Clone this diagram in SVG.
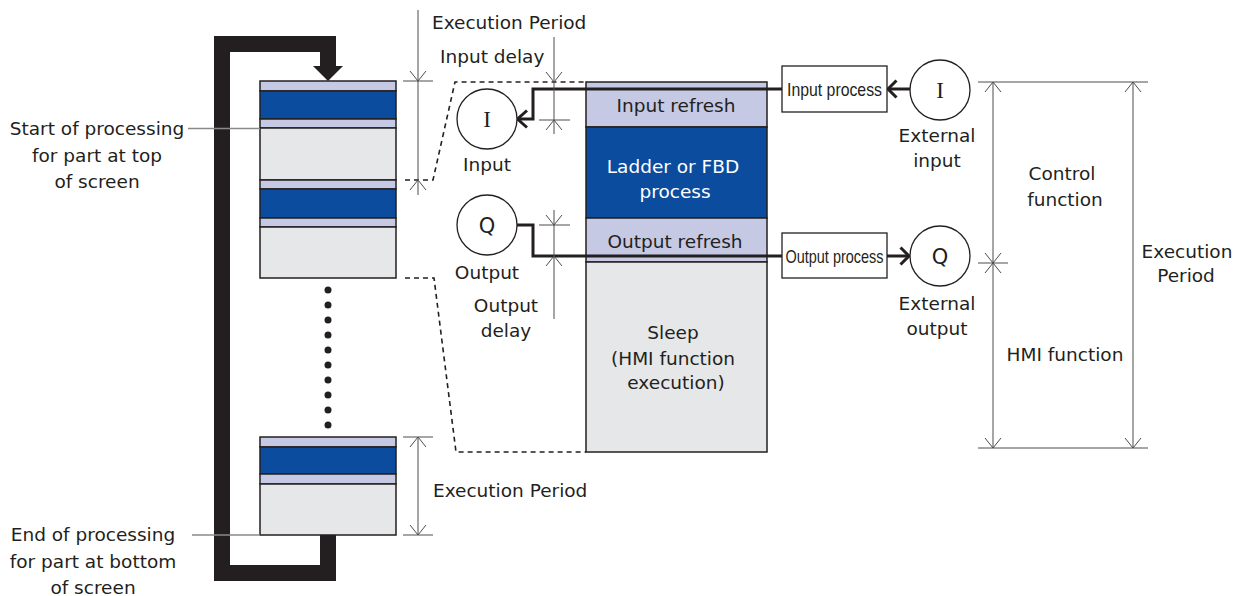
<svg xmlns="http://www.w3.org/2000/svg" width="1234" height="596" viewBox="0 0 1234 596">
<style>
text{font-family:"DejaVu Sans","Liberation Sans",sans-serif;font-size:18.5px;fill:#231f20}
.mid{text-anchor:middle}
.wt{fill:#ffffff}
.big{font-size:21px}
.cond{font-family:"Liberation Sans Narrow","Liberation Sans",sans-serif;font-size:19px}
.serif{font-family:"Liberation Serif","DejaVu Serif",serif;font-size:23px}
.lt{fill:#c5c9e3;stroke:#231f20;stroke-width:1.5}
.bl{fill:#0b4c9e;stroke:#231f20;stroke-width:1.5}
.gr{fill:#e6e7e8;stroke:#231f20;stroke-width:1.5}
.dim{fill:none;stroke:#4d4d4d;stroke-width:1}
.dash{fill:none;stroke:#231f20;stroke-width:1.6;stroke-dasharray:5 4}
.thick{fill:none;stroke:#231f20;stroke-width:3}
.circ{fill:#ffffff;stroke:#231f20;stroke-width:1.3}
.box{fill:#ffffff;stroke:#231f20;stroke-width:1.3}
.lead{fill:none;stroke:#8a8a8a;stroke-width:1.5}
</style>

<g id="loop">
  <path d="M328 535 V573 H222 V44 H328 V68" fill="none" stroke="#231f20" stroke-width="16"/>
  <polygon points="313,66 343,66 328,81" fill="#231f20"/>
</g>

<g id="stack-top">
  <rect class="lt" x="260" y="81" width="136" height="10"/>
  <rect class="bl" x="260" y="91" width="136" height="28"/>
  <rect class="lt" x="260" y="119" width="136" height="9"/>
  <rect class="gr" x="260" y="128" width="136" height="52"/>
  <rect class="lt" x="260" y="180" width="136" height="9"/>
  <rect class="bl" x="260" y="189" width="136" height="29"/>
  <rect class="lt" x="260" y="218" width="136" height="9"/>
  <rect class="gr" x="260" y="227" width="136" height="51"/>
</g>

<g id="dots" fill="#231f20">
  <circle cx="328" cy="290" r="3.5"/><circle cx="328" cy="305" r="3.5"/>
  <circle cx="328" cy="320" r="3.5"/><circle cx="328" cy="335" r="3.5"/>
  <circle cx="328" cy="350" r="3.5"/><circle cx="328" cy="365" r="3.5"/>
  <circle cx="328" cy="380" r="3.5"/><circle cx="328" cy="395" r="3.5"/>
  <circle cx="328" cy="410" r="3.5"/><circle cx="328" cy="425" r="3.5"/>
</g>

<g id="stack-bottom">
  <rect class="lt" x="260" y="437" width="136" height="10"/>
  <rect class="bl" x="260" y="447" width="136" height="27"/>
  <rect class="lt" x="260" y="474" width="136" height="10"/>
  <rect class="gr" x="260" y="484" width="136" height="51"/>
</g>

<g id="start-label">
  <path class="lead" d="M188 128.5 H260"/>
  <text class="mid" x="97" y="135">Start of processing</text>
  <text class="mid" x="97" y="161.5">for part at top</text>
  <text class="mid" x="97" y="188">of screen</text>
</g>

<g id="end-label">
  <path class="lead" d="M192 535 H260"/>
  <text class="mid" x="93" y="541">End of processing</text>
  <text class="mid" x="93" y="567.5">for part at bottom</text>
  <text class="mid" x="93" y="594">of screen</text>
</g>

<g id="main-block">
  <rect class="lt" x="586" y="82" width="181" height="45"/>
  <rect class="bl" x="586" y="127" width="181" height="91"/>
  <rect class="lt" x="586" y="218" width="181" height="44"/>
  <rect class="gr" x="586" y="262" width="181" height="190"/>
  <text class="mid" x="676" y="111.5">Input refresh</text>
  <text class="mid wt" x="673" y="173">Ladder or FBD</text>
  <text class="mid wt" x="675" y="198">process</text>
  <text class="mid" x="675" y="248">Output refresh</text>
  <text class="mid" x="673" y="339">Sleep</text>
  <text class="mid" x="673" y="365">(HMI function</text>
  <text class="mid" x="676" y="389">execution)</text>
</g>

<g id="connectors">
  <path class="dash" d="M405 180 H433 L455 82 H586"/>
  <path class="dash" d="M405 278 H434 L456 452 H586"/>
  <path class="thick" d="M783 89 H533 V119 H518"/>
  <path class="thick" d="M527 110.5 L517.5 119 L527 127.5"/>
  <path class="thick" d="M517 225 H533 V256 H783"/>
  <path class="thick" d="M910 89 H888"/>
  <path class="thick" d="M896.5 80.5 L888 89 L896.5 97.5"/>
  <path class="thick" d="M887 256 H909"/>
  <path class="thick" d="M900.5 247.5 L909 256 L900.5 264.5"/>
</g>

<g id="input-circle">
  <circle class="circ" cx="487" cy="119" r="30"/>
  <text class="mid serif" x="487" y="127">I</text>
  <text class="mid" x="487" y="171">Input</text>
</g>

<g id="output-circle">
  <circle class="circ" cx="487" cy="225" r="30"/>
  <text class="mid big" x="487" y="233">Q</text>
  <text class="mid" x="487" y="279">Output</text>
</g>

<g id="input-process">
  <rect class="box" x="782" y="66" width="105" height="46"/>
  <text class="cond" x="787" y="96" textLength="95" lengthAdjust="spacingAndGlyphs">Input process</text>
</g>

<g id="output-process">
  <rect class="box" x="782" y="233" width="105" height="45"/>
  <text class="cond" x="785.5" y="263" textLength="98" lengthAdjust="spacingAndGlyphs">Output process</text>
</g>

<g id="external-input">
  <circle class="circ" cx="940" cy="90" r="30"/>
  <text class="mid serif" x="940" y="98">I</text>
  <text class="mid" x="937" y="142">External</text>
  <text class="mid" x="937" y="167">input</text>
</g>

<g id="external-output">
  <circle class="circ" cx="940" cy="256" r="30"/>
  <text class="mid big" x="940" y="264">Q</text>
  <text class="mid" x="937" y="310">External</text>
  <text class="mid" x="937" y="335">output</text>
</g>

<g id="dim-top-left">
  <path class="dim" d="M418 10 V195 M403 81 H433"/>
  <path class="dim" d="M410 71 L418 81 L426 71 M410 190 L418 180 L426 190"/>
  <text x="432" y="29">Execution Period</text>
</g>

<g id="dim-input-delay">
  <path class="dim" d="M554 37 V134 M539 120 H570"/>
  <path class="dim" d="M546 72 L554 82 L562 72 M546 130 L554 120 L562 130"/>
  <text x="440" y="63">Input delay</text>
</g>

<g id="dim-output-delay">
  <path class="dim" d="M554 210 V319 M539 225 H570"/>
  <path class="dim" d="M546 215 L554 225 L562 215 M546 266 L554 256 L562 266"/>
  <text class="mid" x="506" y="312">Output</text>
  <text class="mid" x="506" y="337">delay</text>
</g>

<g id="dim-bottom-left">
  <path class="dim" d="M418 437 V535 M403 437 H433 M403 535 H433"/>
  <path class="dim" d="M410 447 L418 437 L426 447 M410 525 L418 535 L426 525"/>
  <text x="433" y="497">Execution Period</text>
</g>

<g id="dim-right">
  <path class="dim" d="M978 82 H1148 M978 448 H1148 M978 263 H1008 M993 82 V448 M1133 82 V448"/>
  <path class="dim" d="M985 92 L993 82 L1001 92 M985 438 L993 448 L1001 438 M985 253 L993 263 L1001 253 M985 273 L993 263 L1001 273 M1125 92 L1133 82 L1141 92 M1125 438 L1133 448 L1141 438"/>
  <text class="mid" x="1062" y="180">Control</text>
  <text class="mid" x="1065" y="206">function</text>
  <text class="mid" x="1065" y="361">HMI function</text>
  <text class="mid" x="1187" y="258">Execution</text>
  <text class="mid" x="1186" y="282">Period</text>
</g>
</svg>
